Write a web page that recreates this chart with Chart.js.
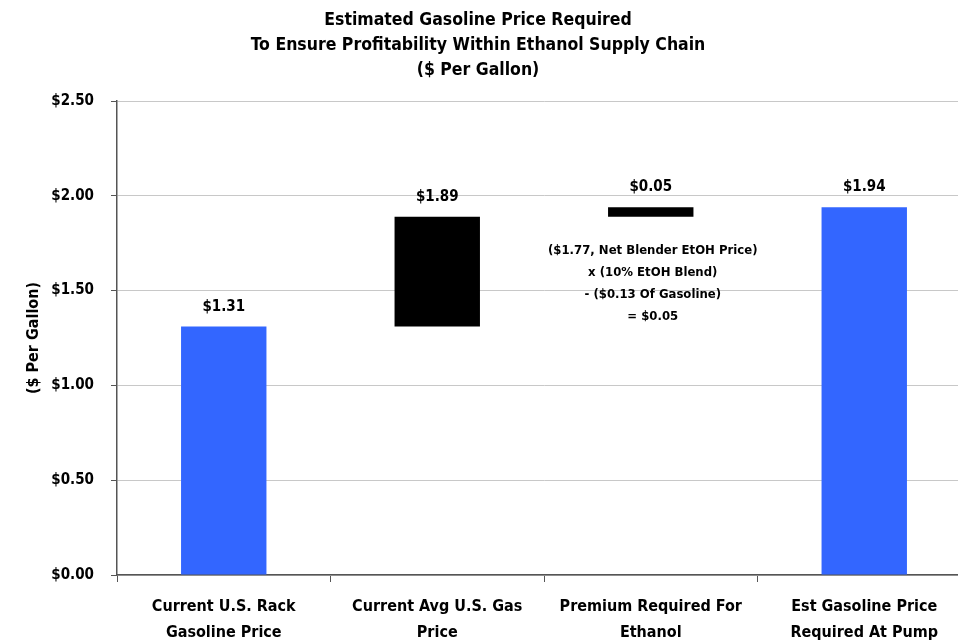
<!DOCTYPE html>
<html>
<head>
<meta charset="utf-8">
<script src="https://cdn.jsdelivr.net/npm/chart.js@4.4.0/dist/chart.umd.min.js"></script>
<style>
  html, body { margin: 0; padding: 0; background: #fff; overflow: hidden; }
  #wrap { width: 980px; height: 644px; }
</style>
</head>
<body>
<div id="wrap"><canvas id="priceChart" width="980" height="644"></canvas></div>
<script>
// Chart data
const categories = [
  ["Current U.S. Rack", "Gasoline Price"],
  ["Current Avg U.S. Gas", "Price"],
  ["Premium Required For", "Ethanol"],
  ["Est Gasoline Price", "Required At Pump"],
]
const barStarts = [0, 1.31, 1.89, 0]
const barEnds = [1.31, 1.89, 1.94, 1.94]
const barLabels = [1.31, 1.89, 0.05, 1.94]
const barColors = ["#3366FF", "#000000", "#000000", "#3366FF"]
const yTicks = [0, 0.5, 1.0, 1.5, 2.0, 2.5]

const titleLines = [
  "Estimated Gasoline Price Required",
  "To Ensure Profitability Within Ethanol Supply Chain",
  "($ Per Gallon)",
]
const noteLines = [
  "($1.77, Net Blender EtOH Price)",
  "x (10% EtOH Blend)",
  "- ($0.13 Of Gasoline)",
  "= $0.05",
]

const FONT = "'Liberation Sans Narrow', 'DejaVu Sans Condensed', 'Arial Narrow', sans-serif"
const money = (v) => "$" + Number(v).toFixed(2)

// Title, bar value labels and the ethanol note
const textPlugin = {
  id: "textPlugin",
  afterDatasetsDraw(chart) {
    const ctx = chart.ctx
    const meta = chart.getDatasetMeta(0)
    const y = chart.scales.y
    ctx.save()
    ctx.fillStyle = "#000"
    ctx.textAlign = "center"
    ctx.textBaseline = "middle"

    ctx.font = "bold 17.5px " + FONT
    titleLines.forEach((line, i) => ctx.fillText(line, 478, 20 + i * 25))

    ctx.font = "bold 15px " + FONT
    meta.data.forEach((bar, i) => {
      ctx.fillText(money(barLabels[i]), bar.x, y.getPixelForValue(barEnds[i]) - 20)
    })

    ctx.font = "bold 13px " + FONT
    const noteX = meta.data[2].x + 2
    noteLines.forEach((line, i) => ctx.fillText(line, noteX, 251 + i * 22))
    ctx.restore()
  },
}

const ctx = document.getElementById("priceChart")
new Chart(ctx, {
  type: "bar",
  data: {
    labels: categories,
    datasets: [
      {
        data: barStarts.map((s, i) => [s, barEnds[i]]),
        backgroundColor: barColors,
        borderWidth: 0,
        categoryPercentage: 1,
        barPercentage: 0.4,
      },
    ],
  },
  options: {
    responsive: false,
    animation: false,
    events: [],
    layout: { padding: { top: 101, right: 9, left: 0, bottom: 0 } },
    plugins: {
      legend: { display: false },
      tooltip: { enabled: false },
      title: { display: false },
    },
    scales: {
      x: {
        offset: true,
        grid: {
          offset: true,
          drawOnChartArea: false,
          drawTicks: true,
          tickLength: 7,
          tickColor: "#555",
        },
        border: { color: "#555", width: 1.5 },
        ticks: {
          color: "#000",
          padding: 12,
          font: { family: FONT, size: 16, weight: "bold", lineHeight: 1.6 },
        },
        afterFit: (scale) => { scale.height = 69 },
      },
      y: {
        min: 0,
        max: 2.5,
        afterBuildTicks: (scale) => { scale.ticks = yTicks.map((v) => ({ value: v })) },
        grid: {
          color: "#c8c8c8",
          tickColor: "#555",
          tickLength: 6,
        },
        border: { color: "#555", width: 1.5 },
        ticks: {
          color: "#000",
          padding: 17,
          callback: (v) => money(v),
          font: { family: FONT, size: 15, weight: "bold" },
        },
        title: {
          display: true,
          text: "($ Per Gallon)",
          color: "#000",
          padding: { top: 24, bottom: 0 },
          font: { family: FONT, size: 16, weight: "bold" },
        },
        afterFit: (scale) => { scale.width = 117 },
      },
    },
  },
  plugins: [textPlugin],
})
</script>
</body>
</html>
